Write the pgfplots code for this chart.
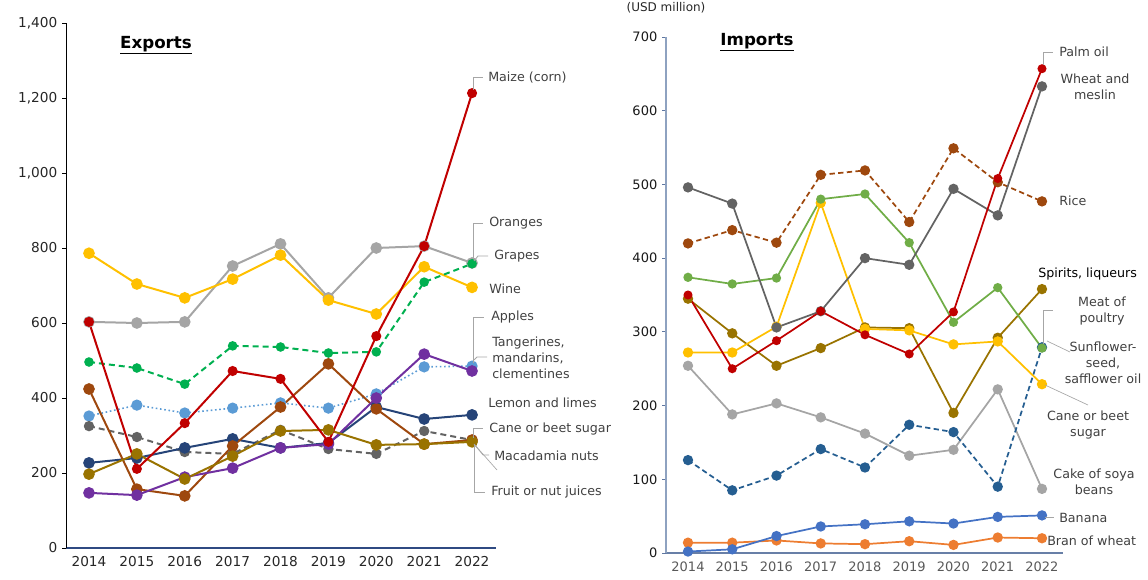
\documentclass[border=0pt]{standalone}
\usepackage{fontspec}
\setmainfont{DejaVu Sans}
\usepackage{pgfplots}
\pgfplotsset{compat=1.18}
\definecolor{cRed}{HTML}{C00000}
\definecolor{cLGrey}{HTML}{A5A5A5}
\definecolor{cGreen}{HTML}{00B050}
\definecolor{cGold}{HTML}{FFC000}
\definecolor{cLBlue}{HTML}{5B9BD5}
\definecolor{cPurple}{HTML}{7030A0}
\definecolor{cNavy}{HTML}{264478}
\definecolor{cBrown}{HTML}{9E480E}
\definecolor{cDGrey}{HTML}{636363}
\definecolor{cOlive}{HTML}{997300}
\definecolor{cLGreen}{HTML}{70AD47}
\definecolor{cMBlue}{HTML}{255E91}
\definecolor{cBlue}{HTML}{4472C4}
\definecolor{cOrange}{HTML}{ED7D31}
\definecolor{lab}{HTML}{404040}
\definecolor{lead}{HTML}{A6A6A6}
\definecolor{axL}{HTML}{2F4A82}
\definecolor{axR}{HTML}{8EA2C0}
\pgfplotsset{
  base/.style={
    scale only axis, clip=false,
    axis x line*=bottom, axis y line*=left,
    tick align=outside, major tick length=3pt,
    xtick={2014,...,2022},
    xticklabels={2014,2015,2016,2017,2018,2019,2020,2021,2022},
    xtick style={draw=none},
    /pgf/number format/assume math mode=true,
    every axis plot/.append style={mark=*, mark options={solid}},
  },
}
\begin{document}
\begin{tikzpicture}
\useasboundingbox (0,0) rectangle (861pt,434.25pt);
% ---------------- Exports ----------------
\begin{axis}[base,
  at={(49.5pt,23.25pt)}, anchor=south west,
  width=322.5pt, height=393.75pt,
  xmin=2013.52, xmax=2022.5, ymin=0, ymax=1400,
  ytick={0,200,400,600,800,1000,1200,1400},
  yticklabels={0,200,400,600,800,{1,000},{1,200},{1,400}},
  x axis line style={draw=axL, line width=0.8pt, -},
  y axis line style={draw=black, line width=0.6pt, -},
  ytick style={draw=black, line width=0.6pt},
  xticklabel style={font=\fontsize{10.25}{12}\selectfont, text=black!85},
  yticklabel style={font=\fontsize{10.25}{12}\selectfont, text=black!85},
  every axis plot/.append style={line width=1.5pt, mark size=3.6pt},
]
\addplot[color=cLGrey] coordinates {(2014,603) (2015,600) (2016,603) (2017,752) (2018,811) (2019,667) (2020,800) (2021,805) (2022,760)};
\addplot[color=cGold] coordinates {(2014,786) (2015,704) (2016,667) (2017,717) (2018,781) (2019,661) (2020,624) (2021,750) (2022,695)};
\addplot[color=cGreen, dash pattern=on 4.5pt off 3pt, mark size=2.8pt] coordinates {(2014,496) (2015,480) (2016,437) (2017,539) (2018,536) (2019,520) (2020,523) (2021,709) (2022,758)};
\addplot[color=cLBlue, line width=1.2pt, dash pattern=on 1.2pt off 2pt] coordinates {(2014,352) (2015,381) (2016,360) (2017,373) (2018,387) (2019,373) (2020,411) (2021,483) (2022,485)};
\addplot[color=cDGrey, dash pattern=on 4.5pt off 3pt, mark size=3.1pt] coordinates {(2014,325) (2015,296) (2016,256) (2017,251) (2018,315) (2019,264) (2020,251) (2021,312) (2022,288)};
\addplot[color=cNavy] coordinates {(2014,227) (2015,240) (2016,267) (2017,291) (2018,267) (2019,280) (2020,376) (2021,344) (2022,355)};
\addplot[color=cBrown] coordinates {(2014,424) (2015,157) (2016,139) (2017,272) (2018,376) (2019,491) (2020,371) (2021,277) (2022,288)};
\addplot[color=cPurple] coordinates {(2014,147) (2015,141) (2016,189) (2017,213) (2018,267) (2019,277) (2020,400) (2021,517) (2022,472)};
\addplot[color=cOlive] coordinates {(2014,197) (2015,251) (2016,184) (2017,245) (2018,312) (2019,315) (2020,275) (2021,277) (2022,283)};
\addplot[color=cRed, mark size=3pt] coordinates {(2014,603) (2015,211) (2016,333) (2017,472) (2018,451) (2019,283) (2020,565) (2021,805) (2022,1213)};
\end{axis}
% ---------------- Imports ----------------
\begin{axis}[base,
  at={(499.5pt,19.5pt)}, anchor=south west,
  width=297.75pt, height=387pt,
  xmin=2013.503, xmax=2022.475, ymin=0, ymax=700,
  ytick={0,100,...,700},
  yticklabels={0,100,200,300,400,500,600,700},
  x axis line style={draw=axR!60!axL, line width=0.8pt, -},
  y axis line style={draw=axR, line width=1pt, -},
  ytick style={draw=axR!50!axL, line width=0.6pt},
  xticklabel style={font=\fontsize{9.75}{12}\selectfont, text=black!65},
  yticklabel style={font=\fontsize{9.75}{12}\selectfont, text=black!90},
  every axis plot/.append style={line width=1.3pt, mark size=3.2pt},
]
\addplot[color=cOrange] coordinates {(2014,14) (2015,14) (2016,17) (2017,13) (2018,12) (2019,16) (2020,11) (2021,21) (2022,20)};
\addplot[color=cBlue] coordinates {(2014,2) (2015,5) (2016,23) (2017,36) (2018,39) (2019,43) (2020,40) (2021,49) (2022,51)};
\addplot[color=cLGrey] coordinates {(2014,254) (2015,188) (2016,203) (2017,184) (2018,162) (2019,132) (2020,140) (2021,222) (2022,87)};
\addplot[color=cMBlue, dash pattern=on 4pt off 2.5pt] coordinates {(2014,126) (2015,85) (2016,105) (2017,141) (2018,116) (2019,174) (2020,164) (2021,90) (2022,279)};
\addplot[color=cOlive] coordinates {(2014,345) (2015,298) (2016,254) (2017,278) (2018,306) (2019,305) (2020,190) (2021,292) (2022,358)};
\addplot[color=cGold] coordinates {(2014,272) (2015,272) (2016,307) (2017,475) (2018,304) (2019,302) (2020,283) (2021,287) (2022,229)};
\addplot[color=cLGreen, mark size=2.8pt] coordinates {(2014,374) (2015,365) (2016,373) (2017,480) (2018,487) (2019,421) (2020,313) (2021,360) (2022,278)};
\addplot[color=cBrown, dash pattern=on 4pt off 2.5pt] coordinates {(2014,420) (2015,438) (2016,421) (2017,513) (2018,519) (2019,449) (2020,549) (2021,503) (2022,477)};
\addplot[color=cDGrey] coordinates {(2014,496) (2015,474) (2016,306) (2017,328) (2018,400) (2019,391) (2020,494) (2021,458) (2022,633)};
\addplot[color=cRed, mark size=2.7pt] coordinates {(2014,350) (2015,250) (2016,288) (2017,328) (2018,296) (2019,270) (2020,327) (2021,508) (2022,657)};
\end{axis}
% ---------------- annotations (pixel coords, top-left origin) ----------------
\begin{scope}[x=0.75pt, y=-0.75pt, shift={(0pt,434.25pt)}]
\node[font=\fontsize{9}{11}\selectfont, text=black!85, inner sep=0pt] at (666,8) {(USD million)};
\node[font=\fontsize{12.5}{14}\selectfont\bfseries] at (156,45) {\underline{Exports}};
\node[font=\fontsize{12.5}{14}\selectfont\bfseries] at (757,42) {\underline{Imports}};
\begin{scope}[every node/.style={font=\fontsize{9.5}{12}\selectfont, text=lab, inner sep=0pt}]
% Exports labels
\draw[lead, line width=0.6pt] (473,90) -- (473,77) -- (483,77);
\node[anchor=west] at (488,78) {Maize (corn)};
\draw[lead, line width=0.6pt] (473,259) -- (473,223) -- (483,223);
\node[anchor=west] at (489,223) {Oranges};
\draw[lead, line width=0.6pt] (474,261) -- (478,256) -- (488,256);
\node[anchor=west] at (494,256) {Grapes};
\node[anchor=west] at (489,289) {Wine};
\draw[lead, line width=0.6pt] (473,363) -- (473,317) -- (484,317);
\node[anchor=west] at (491,317) {Apples};
\draw[lead, line width=0.6pt] (474,360) -- (477,357) -- (487,357);
\node[anchor=west, align=left] at (492,358) {Tangerines,\\mandarins,\\clementines};
\node[anchor=west] at (488,403) {Lemon and limes};
\draw[lead, line width=0.6pt] (473,438) -- (473,428) -- (483,428);
\node[anchor=west] at (489,429) {Cane or beet sugar};
\draw[lead, line width=0.5pt] (474,444) -- (497,470);
\draw[lead, line width=0.5pt] (474,444) -- (483,455) -- (489,455);
\node[anchor=west] at (494,456) {Macadamia nuts};
\draw[lead, line width=0.6pt] (474,444) -- (474,492) -- (485,492);
\node[anchor=west] at (491,492) {Fruit or nut juices};
% Imports labels
\draw[lead, line width=0.6pt] (1043,65) -- (1043,52) -- (1053,52);
\node[anchor=west] at (1059,52) {Palm oil};
\node[align=center] at (1095,87) {Wheat and\\meslin};
\node[anchor=west] at (1059,201) {Rice};
\node[anchor=west, text=black] at (1038,274) {Spirits, liqueurs};
\draw[lead, line width=0.6pt] (1043,344) -- (1043,310) -- (1053,310);
\node[align=center] at (1102,311) {Meat of\\poultry};
\draw[lead, line width=0.5pt] (1047,341) -- (1070,352);
\node[align=center] at (1103,363) {Sunflower-\\seed,\\safflower oil};
\draw[lead, line width=0.5pt] (1045,385) -- (1088,405);
\node[align=center] at (1088,425) {Cane or beet\\sugar};
\node[align=center] at (1094,482) {Cake of soya\\beans};
\draw[lead, line width=0.6pt] (1045,517) -- (1054,517);
\node[anchor=west] at (1059,518) {Banana};
\node[anchor=west] at (1047,541) {Bran of wheat};
\end{scope}
\end{scope}
\end{tikzpicture}
\end{document}
